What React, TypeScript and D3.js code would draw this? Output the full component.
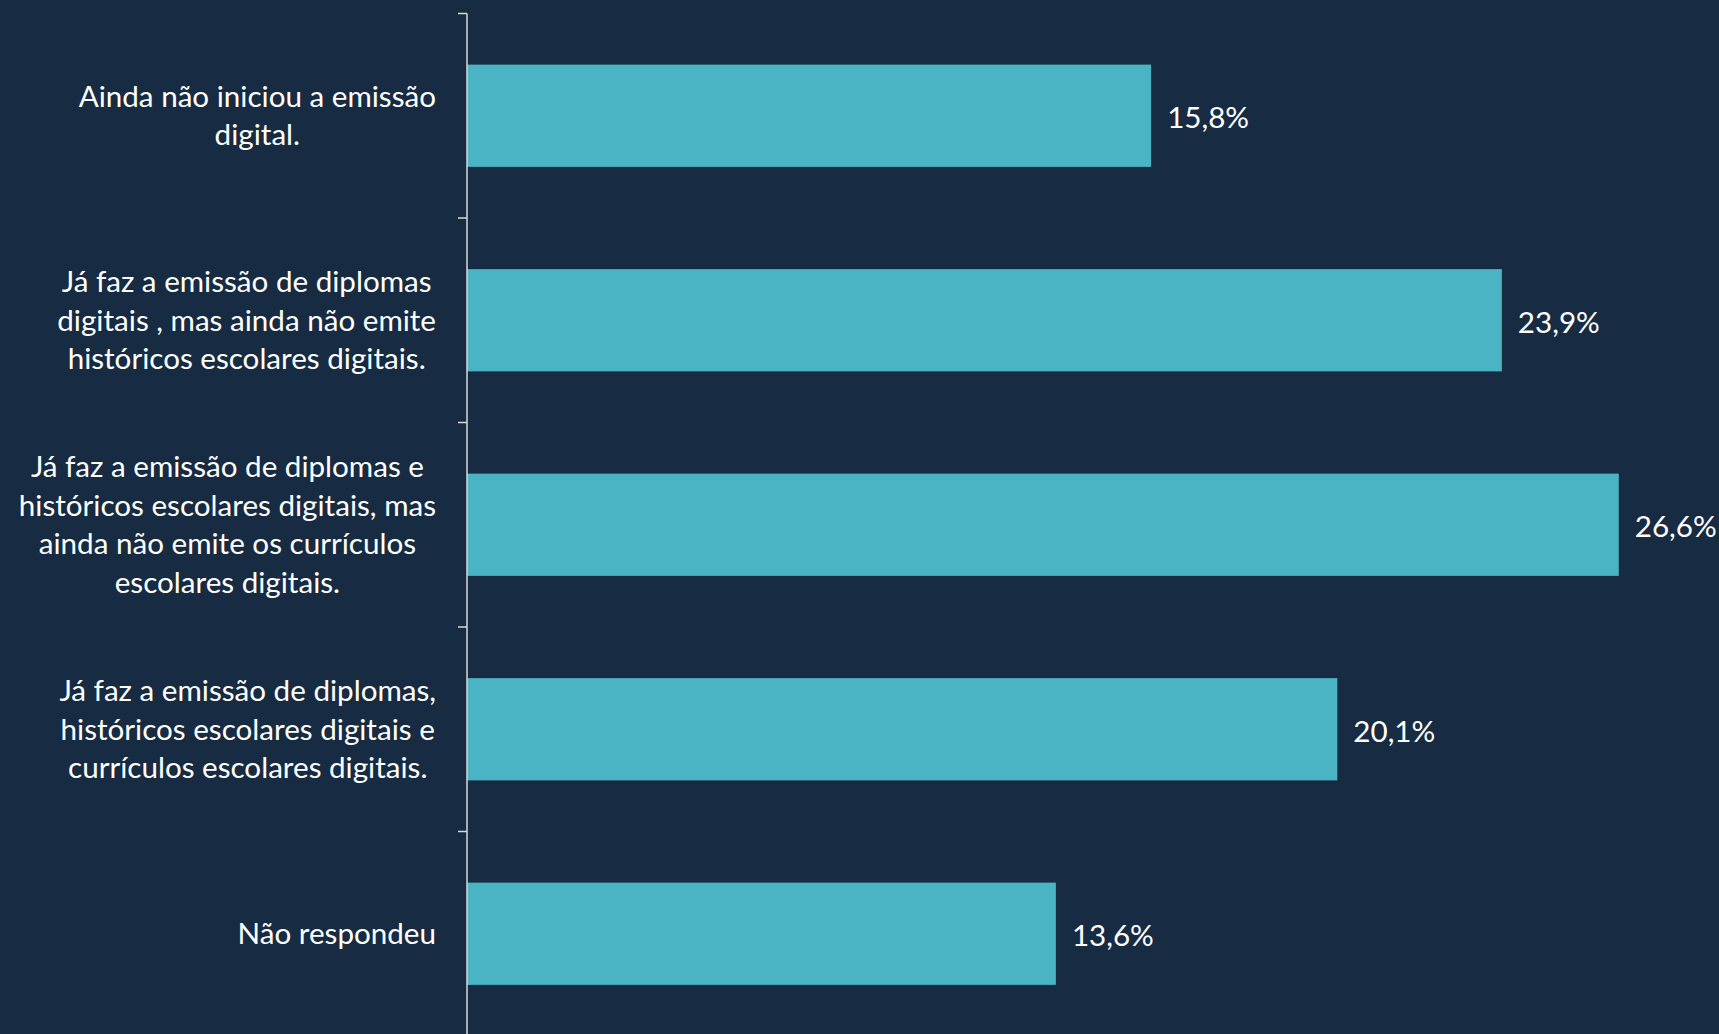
import React, { useEffect, useRef } from "react";
import * as d3 from "d3";

const categories = [
  "Ainda não iniciou a emissão\ndigital.",
  "Já faz a emissão de diplomas\ndigitais , mas ainda não emite\nhistóricos escolares digitais.",
  "Já faz a emissão de diplomas e\nhistóricos escolares digitais, mas\nainda não emite os currículos\nescolares digitais.",
  "Já faz a emissão de diplomas,\nhistóricos escolares digitais e\ncurrículos escolares digitais.",
  "Não respondeu",
];
const values = [15.8, 23.9, 26.6, 20.1, 13.6];
const valueLabels = ["15,8%", "23,9%", "26,6%", "20,1%", "13,6%"];

const W = 1719;
const H = 1034;
const BG = "#172c42";
const BAR = "#4ab4c5";
const FONT = "Lato, 'Open Sans', sans-serif";
const FS = 29.6;
const LH = 38.6;

export default function App() {
  const ref = useRef<SVGSVGElement | null>(null);

  useEffect(() => {
    const svg = d3.select(ref.current);
    svg.selectAll("*").remove();

    const x0 = 467;
    const x = d3.scaleLinear().domain([0, 28]).range([x0, x0 + 28 * 43.3]);
    const y = d3
      .scaleBand<string>()
      .domain(categories)
      .range([13.5, 1036])
      .paddingInner(0.5)
      .paddingOuter(0.25);

    svg.append("rect").attr("width", W).attr("height", H).attr("fill", BG);

    // bars
    svg
      .selectAll("rect.bar")
      .data(categories)
      .enter()
      .append("rect")
      .attr("class", "bar")
      .attr("x", x(0))
      .attr("y", (d) => y(d) as number)
      .attr("width", (d, i) => x(values[i]) - x(0))
      .attr("height", y.bandwidth())
      .attr("fill", BAR);

    // axis
    const step = y.step();
    const [r0, r1] = y.range();
    const ax = svg.append("g").attr("stroke", "#d9d9d9").attr("stroke-width", 1.5);
    ax.append("line").attr("x1", x0).attr("x2", x0).attr("y1", r0).attr("y2", r1);
    d3.range(categories.length + 1).forEach((i) => {
      ax.append("line")
        .attr("x1", x0 - 9)
        .attr("x2", x0)
        .attr("y1", r0 + i * step)
        .attr("y2", r0 + i * step);
    });

    // category labels
    const rightEdge = 436;
    categories.forEach((c) => {
      const lines = c.split("\n");
      const cy = (y(c) as number) + y.bandwidth() / 2;
      const g = svg.append("g");
      const texts = lines.map((ln, j) =>
        g
          .append("text")
          .text(ln)
          .attr("font-family", FONT)
          .attr("font-size", FS)
          .attr("fill", "#ffffff")
          .attr("text-anchor", "middle")
          .attr("dy", "0.35em")
          .attr("y", cy + (j - (lines.length - 1) / 2) * LH)
      );
      const maxW = d3.max(texts, (t) => (t.node() as SVGTextElement).getComputedTextLength()) || 0;
      texts.forEach((t) => t.attr("x", rightEdge - maxW / 2));
    });

    // value labels
    svg
      .selectAll("text.val")
      .data(categories)
      .enter()
      .append("text")
      .attr("class", "val")
      .attr("x", (d, i) => x(values[i]) + 16)
      .attr("y", (d) => (y(d) as number) + y.bandwidth() / 2 + 2)
      .attr("dy", "0.35em")
      .attr("font-family", FONT)
      .attr("font-size", FS)
      .attr("fill", "#ffffff")
      .text((d, i) => valueLabels[i]);
  }, []);

  return (
    <svg
      ref={ref}
      width={W}
      height={H}
      style={{ position: "absolute", left: 0, top: 0, display: "block" }}
    />
  );
}
